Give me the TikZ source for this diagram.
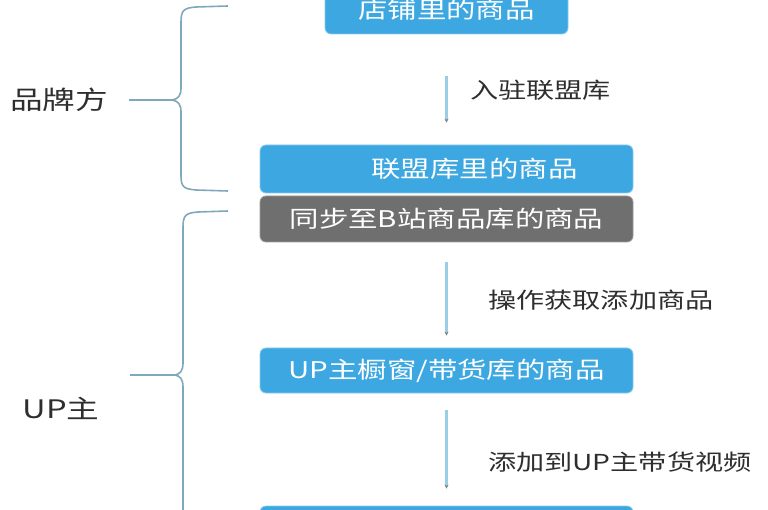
\documentclass[tikz,border=0pt]{standalone}
\usepackage{fontspec}
\newfontfamily\cjk[FakeStretch=1.28]{Noto Sans CJK SC}
\usetikzlibrary{arrows.meta}
\definecolor{boxblue}{HTML}{3CA7E0}
\definecolor{boxgray}{HTML}{6F6F6F}
\definecolor{bracecol}{HTML}{7FA8BA}
\definecolor{linecol}{HTML}{9CCDE6}
\definecolor{txtcol}{HTML}{2E2E2E}
\tikzset{
  bluebox/.style={rectangle, rounded corners=6pt, fill=boxblue, draw=boxblue!60!white, line width=0.8pt, text=white, font=\cjk\fontsize{23}{25}\selectfont, inner sep=0pt},
  graybox/.style={bluebox, fill=boxgray, draw=boxgray!70!white},
  flow/.style={draw=linecol, line width=2.6pt, -{Stealth[length=4pt,width=4pt,color=gray]}},
  lbl/.style={text=txtcol, font=\cjk\fontsize{22}{24}\selectfont, anchor=west, inner sep=0pt},
  sidelbl/.style={text=txtcol, font=\cjk\fontsize{25.5}{27}\selectfont, inner sep=0pt},
  brace/.style={draw=bracecol, line width=1.6pt}
}
\begin{document}
\begin{tikzpicture}[x=1pt,y=-1pt]
\useasboundingbox (0,0) rectangle (768,510);
\begin{scope}
\clip (0,0) rectangle (768,510);
\node[bluebox, minimum width=243pt, minimum height=48pt] (b1) at (446.5,10) {店铺里的商品};
\node[bluebox, minimum width=373pt, minimum height=48pt] (b2) at (446.5,169) {\hspace*{56pt}联盟库里的商品};
\node[graybox, minimum width=373pt, minimum height=46pt] (b3) at (446.5,219) {同步至B站商品库的商品};
\node[bluebox, minimum width=373pt, minimum height=45pt] (b4) at (446.5,370.5) {UP主橱窗/带货库的商品};
\node[bluebox, minimum width=373pt, minimum height=50pt] (b5) at (446.5,531) {};

\draw[flow, shorten <=42pt, shorten >=22pt] (b1.south) -- (b2.north);
\draw[flow, shorten <=20pt, shorten >=12pt] (b3.south) -- (b4.north);
\draw[flow, shorten <=17pt, shorten >=17pt] (b4.south) -- (b5.north);

\node[lbl] (l1) at (470,90) {入驻联盟库};
\node[lbl] (l2) at (488,300) {操作获取添加商品};
\node[lbl] (l3) at (488,462) {添加到UP主带货视频};

\node[sidelbl] (s1) at (59,100) {品牌方};
\node[sidelbl] (s2) at (61,408) {UP主};

% brace 1
\coordinate (c1) at (172,100);
\coordinate (c2) at (175,375);
\draw[brace] (228,6) -- (196,7) .. controls (184,8) and (181,10) .. (181,22) -- (181,88) .. controls (181,96) and (178,99) .. (c1)
  .. controls (178,101) and (181,104) .. (181,112) -- (181,176) .. controls (181,187) and (184,189) .. (196,190) -- (228,191);
\draw[brace] (129,100) -- (c1);
% brace 2
\draw[brace] (228,211) -- (198,212) .. controls (186,213) and (183,215) .. (183,227) -- (183,363) .. controls (183,371) and (180,374) .. (c2)
  .. controls (180,376) and (183,379) .. (183,387) -- (183,520);
\draw[brace] (130,375) -- (c2);
\end{scope}
\end{tikzpicture}
\end{document}
